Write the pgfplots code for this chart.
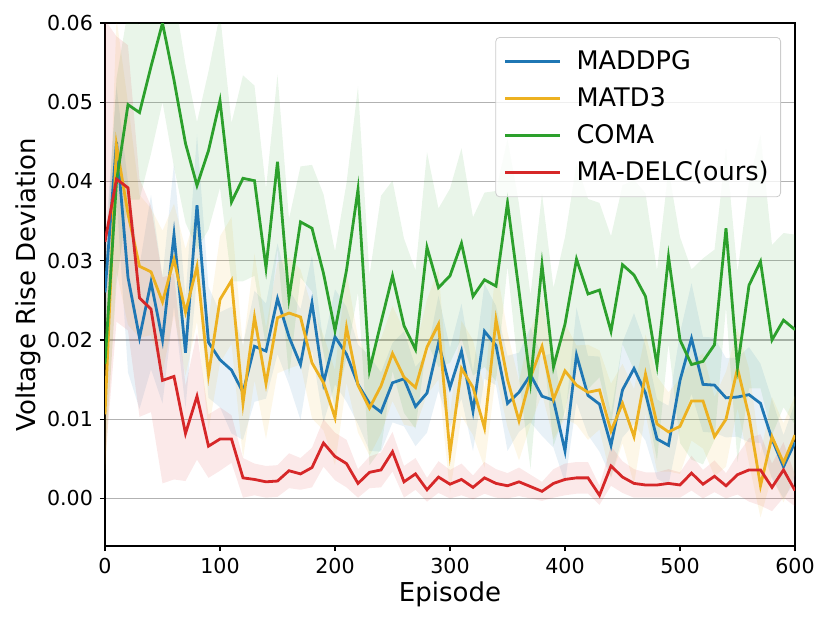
\documentclass[border=0pt]{standalone}
\usepackage{fontspec}
\setmainfont{DejaVu Sans}
\usepackage{pgfplots}
\pgfplotsset{compat=1.18}
\usepackage{pgfplotstable}
\usepgfplotslibrary{fillbetween}
\definecolor{cb}{HTML}{1F77B4}
\definecolor{cy}{HTML}{EDB120}
\definecolor{cg}{HTML}{2CA02C}
\definecolor{cr}{HTML}{D62728}

\pgfplotstableread{
x b be y ye g ge r re
0 0.0260 0.006 0.0106 0.008 0.0170 0.012 0.0324 0.028
10 0.0450 0.007 0.0446 0.016 0.0400 0.013 0.0403 0.018
20 0.0279 0.012 0.0359 0.014 0.0497 0.012 0.0392 0.018
30 0.0203 0.009 0.0293 0.009 0.0487 0.011 0.0253 0.015
40 0.0273 0.011 0.0286 0.008 0.0545 0.011 0.0239 0.013
50 0.0200 0.008 0.0248 0.009 0.0600 0.010 0.0149 0.013
60 0.0333 0.009 0.0302 0.007 0.0528 0.011 0.0154 0.013
70 0.0184 0.007 0.0235 0.008 0.0448 0.010 0.0082 0.006
80 0.0370 0.009 0.0293 0.007 0.0395 0.008 0.0129 0.008
90 0.0197 0.007 0.0156 0.007 0.0439 0.010 0.0066 0.004
100 0.0175 0.006 0.0251 0.008 0.0502 0.011 0.0075 0.004
110 0.0162 0.008 0.0275 0.008 0.0374 0.010 0.0075 0.003
120 0.0134 0.006 0.0120 0.007 0.0404 0.013 0.0026 0.0025
130 0.0192 0.007 0.0229 0.008 0.0401 0.012 0.0024 0.002
140 0.0186 0.006 0.0145 0.007 0.0291 0.010 0.0021 0.002
150 0.0252 0.007 0.0228 0.007 0.0425 0.011 0.0022 0.002
160 0.0204 0.006 0.0234 0.007 0.0253 0.010 0.0035 0.0022
170 0.0169 0.007 0.0229 0.006 0.0349 0.007 0.0031 0.002
180 0.0247 0.006 0.0171 0.007 0.0341 0.008 0.0039 0.0025
190 0.0146 0.005 0.0146 0.006 0.0284 0.010 0.0070 0.003
200 0.0204 0.006 0.0102 0.006 0.0212 0.010 0.0053 0.003
210 0.0182 0.006 0.0216 0.007 0.0288 0.011 0.0044 0.003
220 0.0144 0.005 0.0143 0.006 0.0390 0.013 0.0019 0.0018
230 0.0120 0.006 0.0114 0.006 0.0162 0.012 0.0033 0.002
240 0.0109 0.005 0.0142 0.006 0.0222 0.016 0.0036 0.0022
250 0.0146 0.005 0.0183 0.006 0.0281 0.012 0.0059 0.0025
260 0.0151 0.006 0.0153 0.006 0.0218 0.011 0.0021 0.002
270 0.0116 0.005 0.0140 0.005 0.0188 0.010 0.0031 0.002
280 0.0133 0.005 0.0191 0.006 0.0317 0.012 0.0011 0.0015
290 0.0196 0.006 0.0220 0.007 0.0266 0.010 0.0027 0.002
300 0.0140 0.005 0.0057 0.005 0.0281 0.011 0.0018 0.0018
310 0.0186 0.006 0.0164 0.006 0.0322 0.012 0.0024 0.002
320 0.0110 0.005 0.0140 0.006 0.0255 0.010 0.0014 0.0015
330 0.0211 0.006 0.0089 0.005 0.0276 0.011 0.0026 0.002
340 0.0193 0.005 0.0226 0.007 0.0268 0.012 0.0019 0.0018
350 0.0120 0.006 0.0150 0.006 0.0373 0.008 0.0016 0.0016
360 0.0134 0.005 0.0098 0.005 0.0262 0.011 0.0021 0.0018
370 0.0156 0.006 0.0153 0.006 0.0147 0.011 0.0015 0.0015
380 0.0129 0.005 0.0192 0.006 0.0295 0.009 0.0009 0.0012
390 0.0124 0.006 0.0125 0.005 0.0166 0.010 0.0019 0.0018
400 0.0060 0.004 0.0161 0.006 0.0220 0.011 0.0024 0.002
410 0.0181 0.006 0.0143 0.005 0.0302 0.012 0.0026 0.002
420 0.0130 0.005 0.0134 0.006 0.0258 0.012 0.0026 0.002
430 0.0119 0.006 0.0137 0.005 0.0263 0.011 0.0004 0.0012
440 0.0067 0.004 0.0085 0.006 0.0211 0.012 0.0041 0.0025
450 0.0137 0.006 0.0120 0.005 0.0295 0.010 0.0027 0.002
460 0.0164 0.007 0.0078 0.006 0.0282 0.012 0.0019 0.0018
470 0.0133 0.006 0.0157 0.005 0.0255 0.013 0.0017 0.0016
480 0.0075 0.005 0.0094 0.006 0.0168 0.012 0.0017 0.0016
490 0.0067 0.005 0.0084 0.005 0.0305 0.011 0.0019 0.0018
500 0.0149 0.006 0.0091 0.006 0.0200 0.013 0.0017 0.0016
510 0.0202 0.007 0.0123 0.005 0.0169 0.012 0.0032 0.0022
520 0.0144 0.006 0.0123 0.006 0.0173 0.013 0.0018 0.0018
530 0.0143 0.006 0.0078 0.005 0.0194 0.012 0.0028 0.002
540 0.0127 0.005 0.0100 0.006 0.0341 0.010 0.0016 0.0016
550 0.0128 0.005 0.0164 0.005 0.0166 0.012 0.0030 0.0025
560 0.0131 0.006 0.0104 0.006 0.0269 0.013 0.0036 0.004
570 0.0120 0.005 0.0016 0.004 0.0299 0.016 0.0036 0.0045
580 0.0075 0.005 0.0078 0.005 0.0200 0.012 0.0014 0.003
590 0.0040 0.004 0.0045 0.005 0.0225 0.011 0.0036 0.0035
600 0.0071 0.005 0.0080 0.005 0.0213 0.012 0.0010 0.002
}\data

\begin{document}
\begin{tikzpicture}
\begin{axis}[
  at={(0,0)}, anchor=south west,
  scale only axis, width=345pt, height=261.5pt,
  xmin=0, xmax=600, ymin=-0.006, ymax=0.06,
  xtick={0,100,200,300,400,500,600},
  ytick={0,0.01,0.02,0.03,0.04,0.05,0.06},
  scaled y ticks=false,
  yticklabel style={/pgf/number format/.cd, fixed, fixed zerofill, precision=2},
  /pgf/number format/assume math mode=true,
  tick label style={font=\fontsize{10.3}{12}\selectfont},
  label style={font=\fontsize{13}{15}\selectfont},
  xlabel={Episode}, ylabel={Voltage Rise Deviation},
  xlabel style={yshift=3pt},
  ylabel style={yshift=-4pt},
  ymajorgrids, grid style={draw=black!30, line width=0.6pt},
  tick align=outside, tick pos=left, major tick length=2.5pt,
  axis line style={line width=0.6pt},
  every tick/.style={black, line width=0.6pt},
  legend style={at={(1,1)}, xshift=-7pt, yshift=-7pt, anchor=north east,
    font=\fontsize{12.8}{15}\selectfont, draw=black!20, fill=white,
    fill opacity=0.8, text opacity=1, rounded corners=2pt,
    row sep=3.5pt, inner xsep=4pt, inner ysep=4.5pt},
  legend cell align=left,
  legend image code/.code={\draw[#1, line width=1.4pt] (0pt,0pt) -- (27.5pt,0pt);
    \path (33pt,0pt);},
]
\addplot[name path=bu, draw=none, forget plot] table[x=x, y expr=\thisrow{b}+\thisrow{be}] {\data};
\addplot[name path=bl, draw=none, forget plot] table[x=x, y expr=\thisrow{b}-\thisrow{be}] {\data};
\addplot[cb, fill opacity=0.1, draw=none, forget plot] fill between[of=bu and bl];
\addplot[name path=yu, draw=none, forget plot] table[x=x, y expr=\thisrow{y}+\thisrow{ye}] {\data};
\addplot[name path=yl, draw=none, forget plot] table[x=x, y expr=\thisrow{y}-\thisrow{ye}] {\data};
\addplot[cy, fill opacity=0.1, draw=none, forget plot] fill between[of=yu and yl];
\addplot[name path=gu, draw=none, forget plot] table[x=x, y expr=\thisrow{g}+\thisrow{ge}] {\data};
\addplot[name path=gl, draw=none, forget plot] table[x=x, y expr=\thisrow{g}-\thisrow{ge}] {\data};
\addplot[cg, fill opacity=0.1, draw=none, forget plot] fill between[of=gu and gl];
\addplot[name path=ru, draw=none, forget plot] table[x=x, y expr=\thisrow{r}+\thisrow{re}] {\data};
\addplot[name path=rl, draw=none, forget plot] table[x=x, y expr=\thisrow{r}-\thisrow{re}] {\data};
\addplot[cr, fill opacity=0.1, draw=none, forget plot] fill between[of=ru and rl];

\addplot[cb, line width=1.4pt] table[x=x, y=b] {\data};
\addlegendentry{MADDPG}
\addplot[cy, line width=1.4pt] table[x=x, y=y] {\data};
\addlegendentry{MATD3}
\addplot[cg, line width=1.4pt] table[x=x, y=g] {\data};
\addlegendentry{COMA}
\addplot[cr, line width=1.4pt] table[x=x, y=r] {\data};
\addlegendentry{MA-DELC(ours)}
\end{axis}
\pgfresetboundingbox
\path[use as bounding box] (-52.5pt,-38.5pt) rectangle (362.5pt,273pt);
\end{tikzpicture}
\end{document}
